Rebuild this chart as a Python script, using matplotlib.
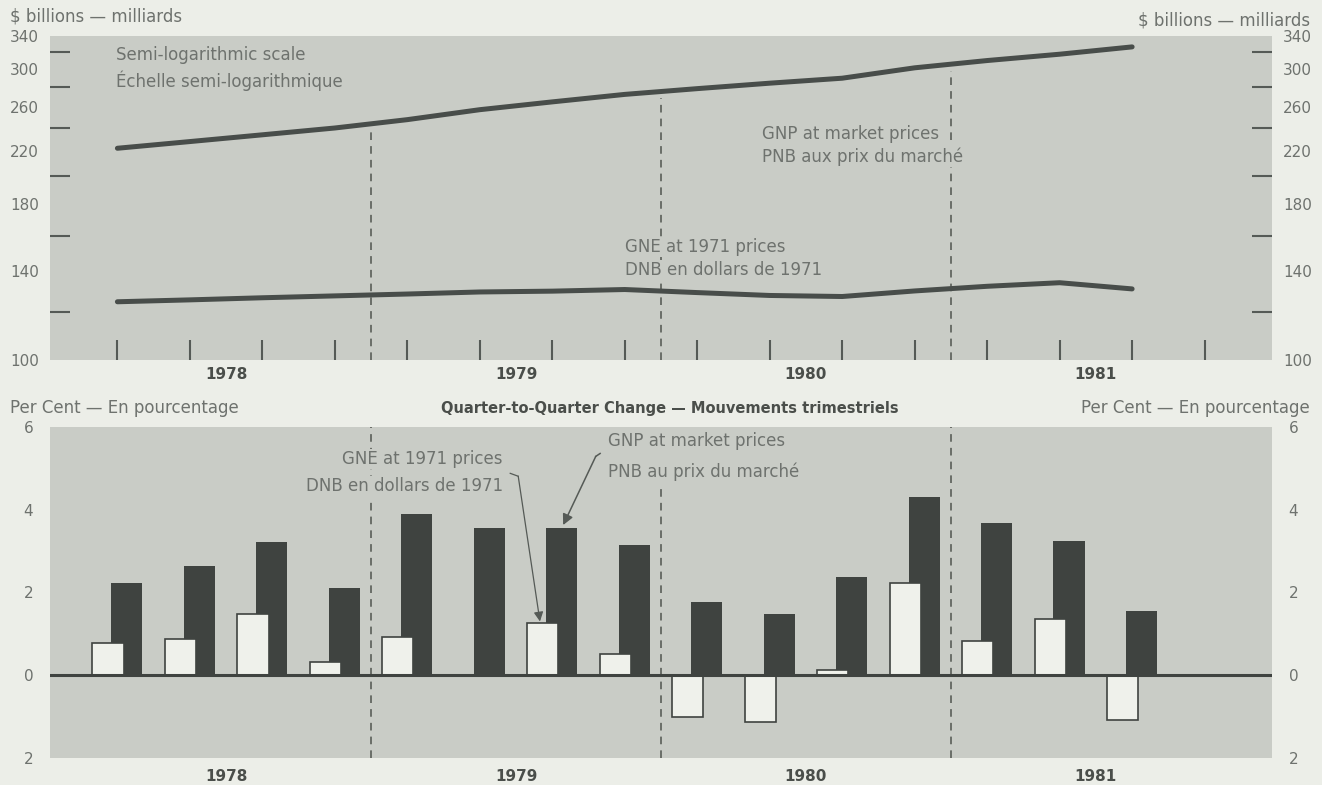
import numpy as np
import matplotlib.pyplot as plt
from matplotlib.ticker import FixedLocator, FixedFormatter, NullFormatter

# quarterly data, 1978Q1 .. 1981Q3
years = ['1978', '1979', '1980', '1981']
n_quarters = 16

# levels, $ billions (semi-log panel)
gnp_level = [222.5, 228.2, 234.1, 240.2, 247.9, 257.4, 265.1, 272.7,
             278.7, 284.5, 289.9, 301.5, 309.9, 317.4, 326.3]
gne_level = [124.6, 125.5, 126.5, 127.4, 128.3, 129.3, 129.7, 130.5,
             129.0, 127.6, 127.1, 129.8, 132.1, 133.9, 130.8]

# quarter-to-quarter change, per cent
gnp_change = [2.22, 2.63, 3.21, 2.10, 3.89, 3.57, 3.57, 3.16,
              1.76, 1.47, 2.37, 4.32, 3.67, 3.24, 1.55]
gne_change = [0.78, 0.87, 1.47, 0.31, 0.92, 0.0, 1.26, 0.51,
              -1.01, -1.14, 0.12, 2.22, 0.82, 1.35, -1.09]

top_ticks = [100, 140, 180, 220, 260, 300, 340]
bot_ticks = [6, 4, 2, 0, -2]
bot_tick_labels = ['6', '4', '2', '0', '2']

page = '#eceee8'
panel = '#c9ccc6'
dark = '#3f4340'
light = '#eff1eb'
txt = '#6e726e'
txt_dark = '#4a4e4a'

plt.rcParams['font.family'] = ['DejaVu Sans']

fig = plt.figure(figsize=(13.22, 7.85), dpi=100, facecolor=page)
W, H = 1322, 785
ax1 = fig.add_axes([50 / W, 1 - 360 / H, 1222 / W, 324 / H])
ax2 = fig.add_axes([50 / W, 1 - 758 / H, 1222 / W, 331 / H])

xq = np.arange(len(gnp_level)) + 0.5
xlim = (-0.43, 16.43)
year_centres = [2, 6, 10, 14]
bounds = [4, 8, 12]

for ax in (ax1, ax2):
    ax.set_facecolor(panel)
    for s in ax.spines.values():
        s.set_visible(False)
    ax.set_xlim(*xlim)

# ---- top panel: levels on semi-log scale
ax1.set_yscale('log')
ax1.set_ylim(100, 340)
ax1.plot(xq, gnp_level, color='#484d4a', lw=3.6, solid_capstyle='round', zorder=3)
ax1.plot(xq, gne_level, color='#484d4a', lw=3.6, solid_capstyle='round', zorder=3)

tops = [np.sqrt(gnp_level[b - 1] * gnp_level[b]) * 0.975 for b in bounds]
ax1.vlines(bounds, 100, tops, colors='#50554f', lw=1.1, linestyles=(0, (5, 4)), zorder=1)

ax1.yaxis.set_major_locator(FixedLocator(top_ticks))
ax1.yaxis.set_major_formatter(FixedFormatter([str(t) for t in top_ticks]))
ax1.yaxis.set_minor_locator(FixedLocator(list(range(120, 340, 20))))
ax1.yaxis.set_minor_formatter(NullFormatter())
ax1.tick_params(axis='y', which='major', length=0, labelsize=11, labelcolor=txt,
                left=True, right=True, labelleft=True, labelright=True, pad=8)
ax1.tick_params(axis='y', which='minor', direction='in', length=14.5, width=1.5,
                color='#555a56', left=True, right=True)

ax1.xaxis.set_major_locator(FixedLocator(year_centres))
ax1.xaxis.set_major_formatter(FixedFormatter(years))
ax1.xaxis.set_minor_locator(FixedLocator(list(np.arange(n_quarters) + 0.5)))
ax1.tick_params(axis='x', which='major', length=0, labelsize=11, labelcolor=txt_dark, pad=5)
ax1.tick_params(axis='x', which='minor', direction='in', length=14.5, width=1.5, color='#555a56')
for lab in ax1.get_xticklabels():
    lab.set_fontweight('bold')

box = dict(facecolor=panel, edgecolor='none', pad=1)
ax1.text(0.054, 0.941, 'Semi-logarithmic scale', transform=ax1.transAxes,
         fontsize=12, color=txt, va='center')
ax1.text(0.054, 0.861, 'Échelle semi-logarithmique', transform=ax1.transAxes,
         fontsize=12, color=txt, va='center')
ax1.text(0.583, 0.698, 'GNP at market prices', transform=ax1.transAxes,
         fontsize=12, color=txt, va='center', bbox=box)
ax1.text(0.583, 0.627, 'PNB aux prix du marché', transform=ax1.transAxes,
         fontsize=12, color=txt, va='center', bbox=box)
ax1.text(0.4705, 0.349, 'GNE at 1971 prices', transform=ax1.transAxes,
         fontsize=12, color=txt, va='center', bbox=box)
ax1.text(0.4705, 0.278, 'DNB en dollars de 1971', transform=ax1.transAxes,
         fontsize=12, color=txt, va='center', bbox=box)

# ---- bottom panel: quarter-to-quarter change
ax2.set_ylim(-2, 6)
ax2.bar(xq + 0.13, gnp_change, width=0.43, color=dark, zorder=2)
ax2.bar(xq - 0.13, gne_change, width=0.43, color=light, edgecolor=dark, lw=1.2, zorder=3)
ax2.axhline(0, color=dark, lw=2.2, zorder=4)
ax2.vlines(bounds, -2, [6, 4.6, 6], colors='#50554f', lw=1.1, linestyles=(0, (5, 4)), zorder=1)

ax2.yaxis.set_major_locator(FixedLocator(bot_ticks))
ax2.yaxis.set_major_formatter(FixedFormatter(bot_tick_labels))
ax2.yaxis.set_minor_locator(FixedLocator([4, 2]))
ax2.tick_params(axis='y', which='major', length=0, labelsize=11, labelcolor=txt,
                left=True, right=True, labelleft=True, labelright=True, pad=12)
ax2.tick_params(axis='y', which='minor', direction='in', length=14.5, width=1.5,
                color='#555a56', left=True, right=True)
ax2.xaxis.set_major_locator(FixedLocator(year_centres))
ax2.xaxis.set_major_formatter(FixedFormatter(years))
ax2.tick_params(axis='x', which='major', length=0, labelsize=11, labelcolor=txt_dark, pad=8)
for lab in ax2.get_xticklabels():
    lab.set_fontweight('bold')

ax2.text(0.3707, 0.903, 'GNE at 1971 prices', transform=ax2.transAxes,
         fontsize=12, color=txt, va='center', ha='right', bbox=box)
ax2.text(0.3707, 0.821, 'DNB en dollars de 1971', transform=ax2.transAxes,
         fontsize=12, color=txt, va='center', ha='right', bbox=box)
ax2.text(0.4566, 0.957, 'GNP at market prices', transform=ax2.transAxes,
         fontsize=12, color=txt, va='center', bbox=box)
ax2.text(0.4566, 0.866, 'PNB au prix du marché', transform=ax2.transAxes,
         fontsize=12, color=txt, va='center', bbox=box)

# pointer lines
ax2.plot([5.92, 6.03], [4.88, 4.81], color='#555a56', lw=0.9, zorder=5)
ax2.annotate('', xy=(xq[6] - 0.17, gne_change[6] + 0.04), xytext=(6.03, 4.81),
             arrowprops=dict(arrowstyle='-|>', color='#555a56', lw=0.9,
                             mutation_scale=14, shrinkA=0, shrinkB=0), zorder=5)
ax2.plot([7.16, 7.10], [5.36, 5.29], color='#555a56', lw=1.1, zorder=5)
ax2.annotate('', xy=(xq[6] + 0.15, gnp_change[6] + 0.06), xytext=(7.10, 5.29),
             arrowprops=dict(arrowstyle='-|>', color='#555a56', lw=1.1,
                             mutation_scale=16, shrinkA=0, shrinkB=0), zorder=5)

# ---- figure level labels
fig.text(10 / W, 1 - 17 / H, '$ billions — milliards', fontsize=12, color=txt, va='center')
fig.text(1310 / W, 1 - 20 / H, '$ billions — milliards', fontsize=12, color=txt,
         va='center', ha='right')
fig.text(10 / W, 1 - 408 / H, 'Per Cent — En pourcentage', fontsize=12, color=txt, va='center')
fig.text(1310 / W, 1 - 408 / H, 'Per Cent — En pourcentage', fontsize=12, color=txt,
         va='center', ha='right')
fig.text(670 / W, 1 - 408 / H, 'Quarter-to-Quarter Change — Mouvements trimestriels',
         fontsize=10.5, color=txt_dark, fontweight='bold', va='center', ha='center')

fig.savefig('out.png', dpi=100, facecolor=page)
